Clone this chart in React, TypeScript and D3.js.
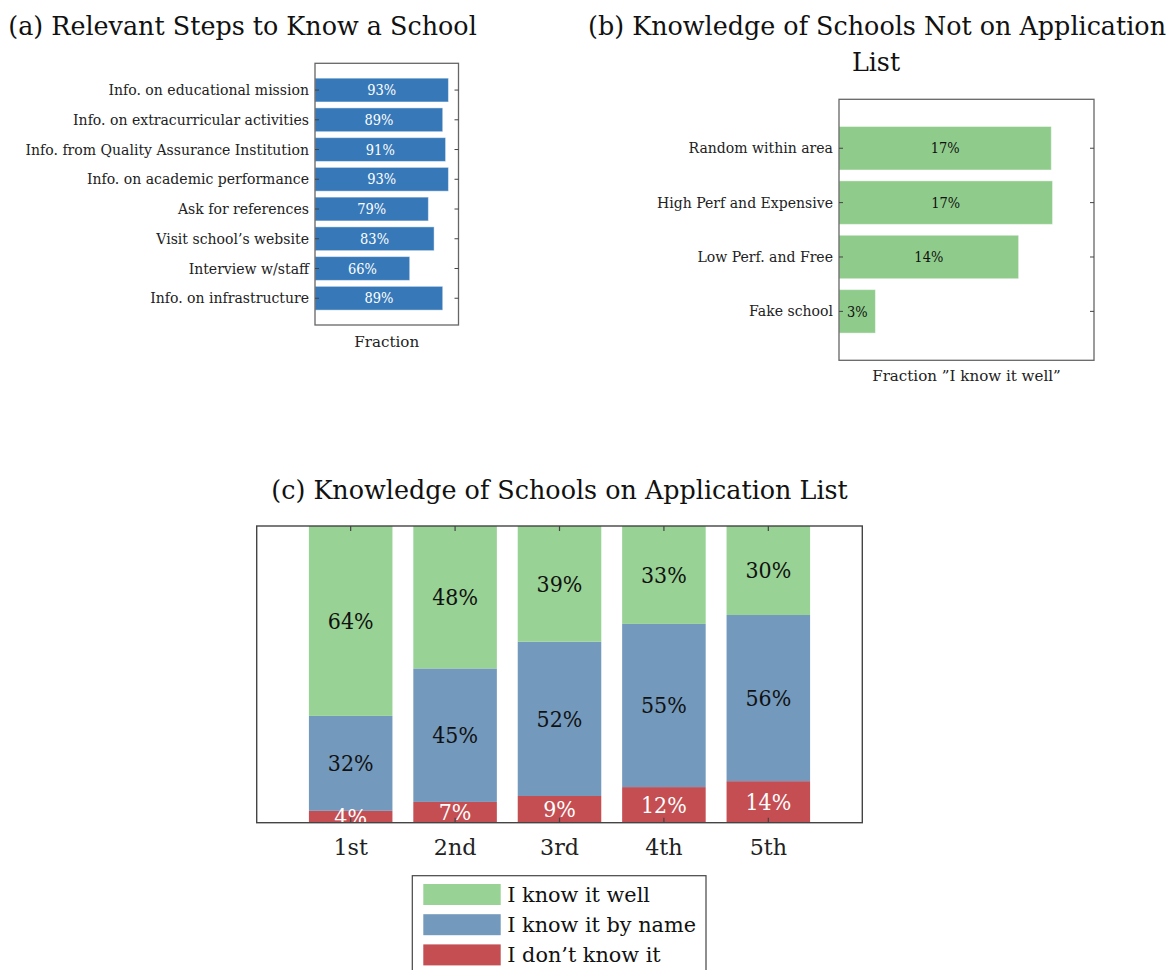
import React from "react";
import * as d3 from "d3";

// ---------- data ----------
const stepsCategories = [
  "Info. on educational mission",
  "Info. on extracurricular activities",
  "Info. from Quality Assurance Institution",
  "Info. on academic performance",
  "Ask for references",
  "Visit school’s website",
  "Interview w/staff",
  "Info. on infrastructure",
];
const stepsValues = [93, 89, 91, 93, 79, 83, 66, 89];

const notListCategories = [
  "Random within area",
  "High Perf and Expensive",
  "Low Perf. and Free",
  "Fake school",
];
const notListValues = [16.9, 17.0, 14.3, 2.9];

const rankCategories = ["1st", "2nd", "3rd", "4th", "5th"];
const dontKnowValues = [4, 7, 9, 12, 14];
const byNameValues = [32, 45, 52, 55, 56];
const knowWellValues = [64, 48, 39, 33, 30];
const seriesKeys = ["dontKnow", "byName", "knowWell"];
const legendLabels = ["I know it well", "I know it by name", "I don’t know it"];

// ---------- styles ----------
const SERIF = "'DejaVu Serif', 'Liberation Serif', serif";
const FS = 0.9; // DejaVu Serif has a larger x-height than Computer Modern
const COL_A = "#3779b8";
const COL_B = "#8fcc8b";
const COL_GREEN = "#98d294";
const COL_BLUE = "#7399bd";
const COL_RED = "#c44e52";
const seriesColors: Record<string, string> = {
  dontKnow: COL_RED,
  byName: COL_BLUE,
  knowWell: COL_GREEN,
};

// fit installed serif glyph widths to the Computer-Modern widths of the original
function measure(s: string): number {
  try {
    const c = document.createElement("canvas");
    const ctx = c.getContext("2d");
    if (!ctx) return 0;
    ctx.font = `100px ${SERIF}`;
    return ctx.measureText(s).width / 100;
  } catch {
    return 0;
  }
}
const wordEm = measure("Info. from Quality Assurance Institution");
const WX = wordEm > 0 ? 17.95 / (wordEm * FS) : 1;
const titleEm = measure("(a) Relevant Steps to Know a School");
const WT = titleEm > 0 ? 16.28 / (titleEm * FS) : 1;
const numEm = measure("93%");
const WN = numEm > 0 ? 1.833 / (numEm * FS) : 1;

type TProps = {
  x: number;
  y: number;
  size: number;
  anchor?: "start" | "middle" | "end";
  baseline?: string;
  sx?: number;
  fill?: string;
  children: React.ReactNode;
};
function T({ x, y, size, anchor = "middle", baseline, sx = WX, fill = "#222", children }: TProps) {
  return (
    <text
      transform={`translate(${x},${y}) scale(${sx},1)`}
      style={{ fontFamily: SERIF }}
      fontSize={size * FS}
      textAnchor={anchor}
      dominantBaseline={baseline}
      fill={fill}
    >
      {children}
    </text>
  );
}

function PanelA() {
  const x = d3.scaleLinear().domain([0, 100]).range([315, 458.5]);
  const y = d3.scaleLinear().domain([-0.9, stepsCategories.length - 0.1]).range([63.3, 325]);
  const bh = y(0.8) - y(0);
  const [x0, x1] = x.range();
  const [y0, y1] = y.range();
  return (
    <g>
      <T x={242.5} y={35} size={28.8} sx={WT} fill="#111">(a) Relevant Steps to Know a School</T>
      {stepsValues.map((v, i) => (
        <rect key={i} x={x(0)} y={y(i) - bh / 2} width={x(v) - x(0)} height={bh} fill={COL_A}
          stroke="#ffffff" strokeOpacity={0.45} strokeWidth={1} />
      ))}
      {stepsValues.map((v, i) => (
        <T key={i} x={(x(0) + x(v)) / 2} y={y(i)} size={15.8} sx={WN} baseline="central" fill="#ffffff">
          {`${d3.format(".0f")(v)}%`}
        </T>
      ))}
      <rect x={x0} y={y0} width={x1 - x0} height={y1 - y0} fill="none" stroke="#666" strokeWidth={1.3} />
      {stepsCategories.map((c, i) => (
        <g key={i}>
          <line x1={x0} x2={x0 + 4} y1={y(i)} y2={y(i)} stroke="#444" strokeWidth={1} />
          <line x1={x1 - 4} x2={x1} y1={y(i)} y2={y(i)} stroke="#444" strokeWidth={1} />
          <T x={309} y={y(i)} size={15.8} anchor="end" baseline="central">{c}</T>
        </g>
      ))}
      <T x={(x0 + x1) / 2} y={346.5} size={17}>Fraction</T>
    </g>
  );
}

function PanelB() {
  const x = d3.scaleLinear().domain([0, 20.3]).range([839, 1094]);
  const y = d3.scaleLinear().domain([-0.9, notListCategories.length - 0.1]).range([99.3, 360.3]);
  const bh = y(0.8) - y(0);
  const [x0, x1] = x.range();
  const [y0, y1] = y.range();
  return (
    <g>
      <T x={877} y={35} size={28.8} sx={WT} fill="#111">(b) Knowledge of Schools Not on Application</T>
      <T x={876} y={71} size={28.8} sx={WT} fill="#111">List</T>
      {notListValues.map((v, i) => (
        <rect key={i} x={x(0)} y={y(i) - bh / 2} width={x(v) - x(0)} height={bh} fill={COL_B}
          stroke="#ffffff" strokeOpacity={0.45} strokeWidth={1} />
      ))}
      {notListValues.map((v, i) => (
        <T key={i} x={(x(0) + x(v)) / 2} y={y(i)} size={15.8} sx={WN} baseline="central" fill="#111">
          {`${d3.format(".0f")(v)}%`}
        </T>
      ))}
      <rect x={x0} y={y0} width={x1 - x0} height={y1 - y0} fill="none" stroke="#666" strokeWidth={1.3} />
      {notListCategories.map((c, i) => (
        <g key={i}>
          <line x1={x0} x2={x0 + 4} y1={y(i)} y2={y(i)} stroke="#444" strokeWidth={1} />
          <line x1={x1 - 4} x2={x1} y1={y(i)} y2={y(i)} stroke="#444" strokeWidth={1} />
          <T x={833} y={y(i)} size={15.8} anchor="end" baseline="central">{c}</T>
        </g>
      ))}
      <T x={(x0 + x1) / 2} y={381} size={17}>Fraction ”I know it well”</T>
    </g>
  );
}

function PanelC() {
  const x = d3.scaleLinear().domain([-0.9, rankCategories.length - 0.1]).range([256.7, 862.3]);
  const y = d3.scaleLinear().domain([0, 100]).range([822.7, 526]);
  const bw = x(0.8) - x(0);
  const [x0, x1] = x.range();
  const [yb, yt] = y.range();
  const table = rankCategories.map((c, i) => ({
    cat: c,
    dontKnow: dontKnowValues[i],
    byName: byNameValues[i],
    knowWell: knowWellValues[i],
  }));
  const stacked = d3.stack<any>().keys(seriesKeys)(table);
  const legendKeys = ["knowWell", "byName", "dontKnow"];
  return (
    <g>
      <T x={(x0 + x1) / 2} y={499} size={28.8} sx={WT} fill="#111">(c) Knowledge of Schools on Application List</T>
      {stacked.map((s) => (
        <g key={s.key}>
          {s.map((d, i) => (
            <rect key={i} x={x(i) - bw / 2} y={y(d[1])} width={bw} height={y(d[0]) - y(d[1])}
              fill={seriesColors[s.key]} />
          ))}
        </g>
      ))}
      {stacked.map((s) => (
        <g key={s.key}>
          {s.map((d, i) => (
            <T key={i} x={x(i)} y={(y(d[0]) + y(d[1])) / 2} size={25} sx={WN} baseline="central"
              fill={s.key === "dontKnow" ? "#ffffff" : "#111"}>
              {`${d[1] - d[0]}%`}
            </T>
          ))}
        </g>
      ))}
      <rect x={x0} y={yt} width={x1 - x0} height={yb - yt} fill="none" stroke="#444" strokeWidth={1.4} />
      {rankCategories.map((c, i) => (
        <g key={c}>
          <line x1={x(i)} x2={x(i)} y1={yt} y2={yt + 5} stroke="#444" strokeWidth={1.2} />
          <line x1={x(i)} x2={x(i)} y1={yb} y2={yb - 5} stroke="#444" strokeWidth={1.2} />
          <T x={x(i)} y={855} size={25}>{c}</T>
        </g>
      ))}
      <rect x={412.3} y={875.7} width={293.7} height={105} fill="#fff" stroke="#444" strokeWidth={1.2} />
      {legendKeys.map((k, i) => (
        <g key={k}>
          <rect x={423.3} y={884 + i * 30.2} width={77.4} height={21} fill={seriesColors[k]} />
          <T x={507.3} y={894.5 + i * 30.2} size={23.4} anchor="start" baseline="central" fill="#111">
            {legendLabels[i]}
          </T>
        </g>
      ))}
    </g>
  );
}

export default function App() {
  return (
    <svg
      width={1168}
      height={970}
      viewBox="0 0 1168 970"
      style={{ position: "absolute", left: 0, top: 0, display: "block", background: "#fff" }}
    >
      <rect x={0} y={0} width={1168} height={970} fill="#fff" />
      <PanelA />
      <PanelB />
      <PanelC />
    </svg>
  );
}
